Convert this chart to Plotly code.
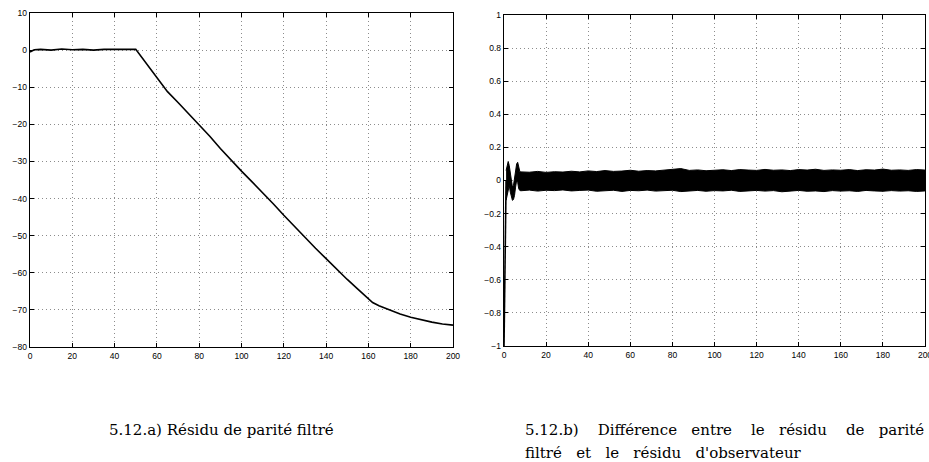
import plotly.graph_objects as go

# ---- Left panel: filtered parity residual ----
res_x = [0, 2, 5, 10, 15, 20, 25, 30, 35, 40, 45, 50, 55, 60, 65, 70, 75, 80, 85, 90,
         95, 100, 105, 110, 115, 120, 125, 130, 135, 140, 145, 150, 155, 160, 162, 165,
         170, 175, 180, 185, 190, 195, 200]
res_y = [-0.5, 0.1, 0.2, 0.0, 0.3, 0.1, 0.2, 0.0, 0.2, 0.1, 0.2, 0.2, -3.5, -7.3, -11.2,
         -14.1, -17.1, -20.0, -23.2, -26.5, -29.7, -32.6, -35.5, -38.4, -41.4, -44.5,
         -47.5, -50.6, -53.4, -56.2, -59.1, -61.8, -64.4, -67.0, -68.0, -68.9, -70.1,
         -71.1, -72.0, -72.7, -73.3, -73.8, -74.1]

# ---- Right panel: difference between residuals ----
spike_x = [0, 0.3, 0.6, 1.0]
spike_y = [-1.0, -0.6, -0.28, 0.0]

band_x = [1, 1.5, 2, 2.5, 3, 3.5, 4, 4.5, 5, 5.5, 6, 6.5, 7, 7.5,
          8, 12, 16, 20, 24, 28, 32, 36, 40, 44, 48, 52, 56, 60, 64, 68, 72, 76, 80, 84,
          88, 92, 96, 100, 104, 108, 112, 116, 120, 124, 128, 132, 136, 140, 144, 148,
          152, 156, 160, 164, 168, 172, 176, 180, 184, 188, 192, 196, 200]
band_hi = [0.06, 0.10, 0.115, 0.09, 0.04, -0.02, -0.04, -0.03, 0.02, 0.07, 0.10, 0.11, 0.08, 0.055,
           0.052, 0.050, 0.055, 0.049, 0.053, 0.051, 0.056, 0.052, 0.058, 0.054, 0.060, 0.055,
           0.057, 0.062, 0.056, 0.060, 0.058, 0.063, 0.066, 0.072, 0.061, 0.064, 0.059, 0.062,
           0.065, 0.060, 0.066, 0.063, 0.061, 0.067, 0.062, 0.064, 0.060, 0.066, 0.063, 0.068,
           0.061, 0.064, 0.062, 0.066, 0.060, 0.065, 0.063, 0.069, 0.062, 0.064, 0.061, 0.066, 0.063]
band_lo = [-0.12, -0.09, -0.04, -0.03, -0.07, -0.10, -0.12, -0.115, -0.09, -0.04, 0.0, -0.01, -0.05, -0.06,
           -0.062, -0.058, -0.064, -0.059, -0.061, -0.057, -0.063, -0.060, -0.058, -0.065, -0.061,
           -0.059, -0.066, -0.060, -0.062, -0.058, -0.064, -0.061, -0.059, -0.067, -0.062, -0.060,
           -0.065, -0.061, -0.063, -0.059, -0.066, -0.062, -0.060, -0.064, -0.061, -0.068, -0.062,
           -0.060, -0.065, -0.063, -0.067, -0.061, -0.064, -0.062, -0.066, -0.060, -0.063, -0.065,
           -0.061, -0.064, -0.062, -0.066, -0.063]

x_ticks = [0, 20, 40, 60, 80, 100, 120, 140, 160, 180, 200]
left_yticks = [-80, -70, -60, -50, -40, -30, -20, -10, 0, 10]
right_yticks = [-1, -0.8, -0.6, -0.4, -0.2, 0, 0.2, 0.4, 0.6, 0.8, 1]

caption_a = "5.12.a) Résidu de parité filtré"
caption_b1_words = ["5.12.b)", "Différence", "entre", "le", "résidu", "de", "parité"]
caption_b2_words = ["filtré", "et", "le", "résidu", "d'observateur"]

W, H = 929, 462

fig = go.Figure()
fig.add_trace(go.Scatter(x=res_x, y=res_y, mode="lines", line=dict(color="black", width=1.6),
                         xaxis="x", yaxis="y", showlegend=False, hoverinfo="skip"))
fig.add_trace(go.Scatter(x=band_x, y=band_lo, mode="lines", line=dict(color="black", width=1),
                         xaxis="x2", yaxis="y2", showlegend=False, hoverinfo="skip"))
fig.add_trace(go.Scatter(x=band_x, y=band_hi, mode="lines", line=dict(color="black", width=1),
                         fill="tonexty", fillcolor="black",
                         xaxis="x2", yaxis="y2", showlegend=False, hoverinfo="skip"))
fig.add_trace(go.Scatter(x=spike_x, y=spike_y, mode="lines", line=dict(color="black", width=1.6),
                         xaxis="x2", yaxis="y2", showlegend=False, hoverinfo="skip"))

tickfont = dict(family="Liberation Sans, Arial, sans-serif", size=8.5, color="black")
common = dict(showline=True, linecolor="black", linewidth=1.3, mirror="ticks",
              ticks="inside", ticklen=4, tickcolor="black", tickwidth=1,
              showgrid=True, gridcolor="#8c8c8c", griddash="1px,3px", gridwidth=1,
              zeroline=False, tickfont=tickfont, fixedrange=True,
              automargin=False, ticklabeloverflow="allow")


def px_x(p):
    return p / W


def px_y(p):
    return (H - p) / H


fig.update_layout(
    width=W, height=H, margin=dict(l=0, r=0, t=0, b=0, autoexpand=False),
    paper_bgcolor="white", plot_bgcolor="white",
    xaxis=dict(domain=[px_x(30), px_x(453)], range=[0, 200], tickvals=x_ticks,
               anchor="y", **common),
    yaxis=dict(domain=[px_y(347), px_y(13)], range=[-80, 10], tickvals=left_yticks,
               anchor="x", **common),
    xaxis2=dict(domain=[px_x(504), px_x(925)], range=[0, 200], tickvals=x_ticks,
                anchor="y2", **common),
    yaxis2=dict(domain=[px_y(346), px_y(15)], range=[-1, 1], tickvals=right_yticks,
                anchor="x2", **common),
)

NB = "\u00a0"
capfont = dict(family="DejaVu Serif, serif", size=15, color="black")
fig.add_annotation(x=px_x(107), y=px_y(430), xref="paper", yref="paper", text=caption_a,
                   showarrow=False, xanchor="left", yanchor="middle", font=capfont)

gaps1 = [3, 2, 3, 2, 3, 2]
line1 = caption_b1_words[0]
for w, g in zip(caption_b1_words[1:], gaps1):
    line1 += " " + NB * g + w
gaps2 = [2, 2, 2, 2]
line2 = caption_b2_words[0]
for w, g in zip(caption_b2_words[1:], gaps2):
    line2 += " " + NB * g + w

fig.add_annotation(x=px_x(523), y=px_y(430), xref="paper", yref="paper", text=line1,
                   showarrow=False, xanchor="left", yanchor="middle", font=capfont)
fig.add_annotation(x=px_x(523), y=px_y(453), xref="paper", yref="paper", text=line2,
                   showarrow=False, xanchor="left", yanchor="middle", font=capfont)

fig.write_html("out.html", config={"displayModeBar": False, "staticPlot": True},
               post_script="document.body.style.margin='0';document.body.style.padding='0';"
                           "document.body.style.overflow='hidden';")
